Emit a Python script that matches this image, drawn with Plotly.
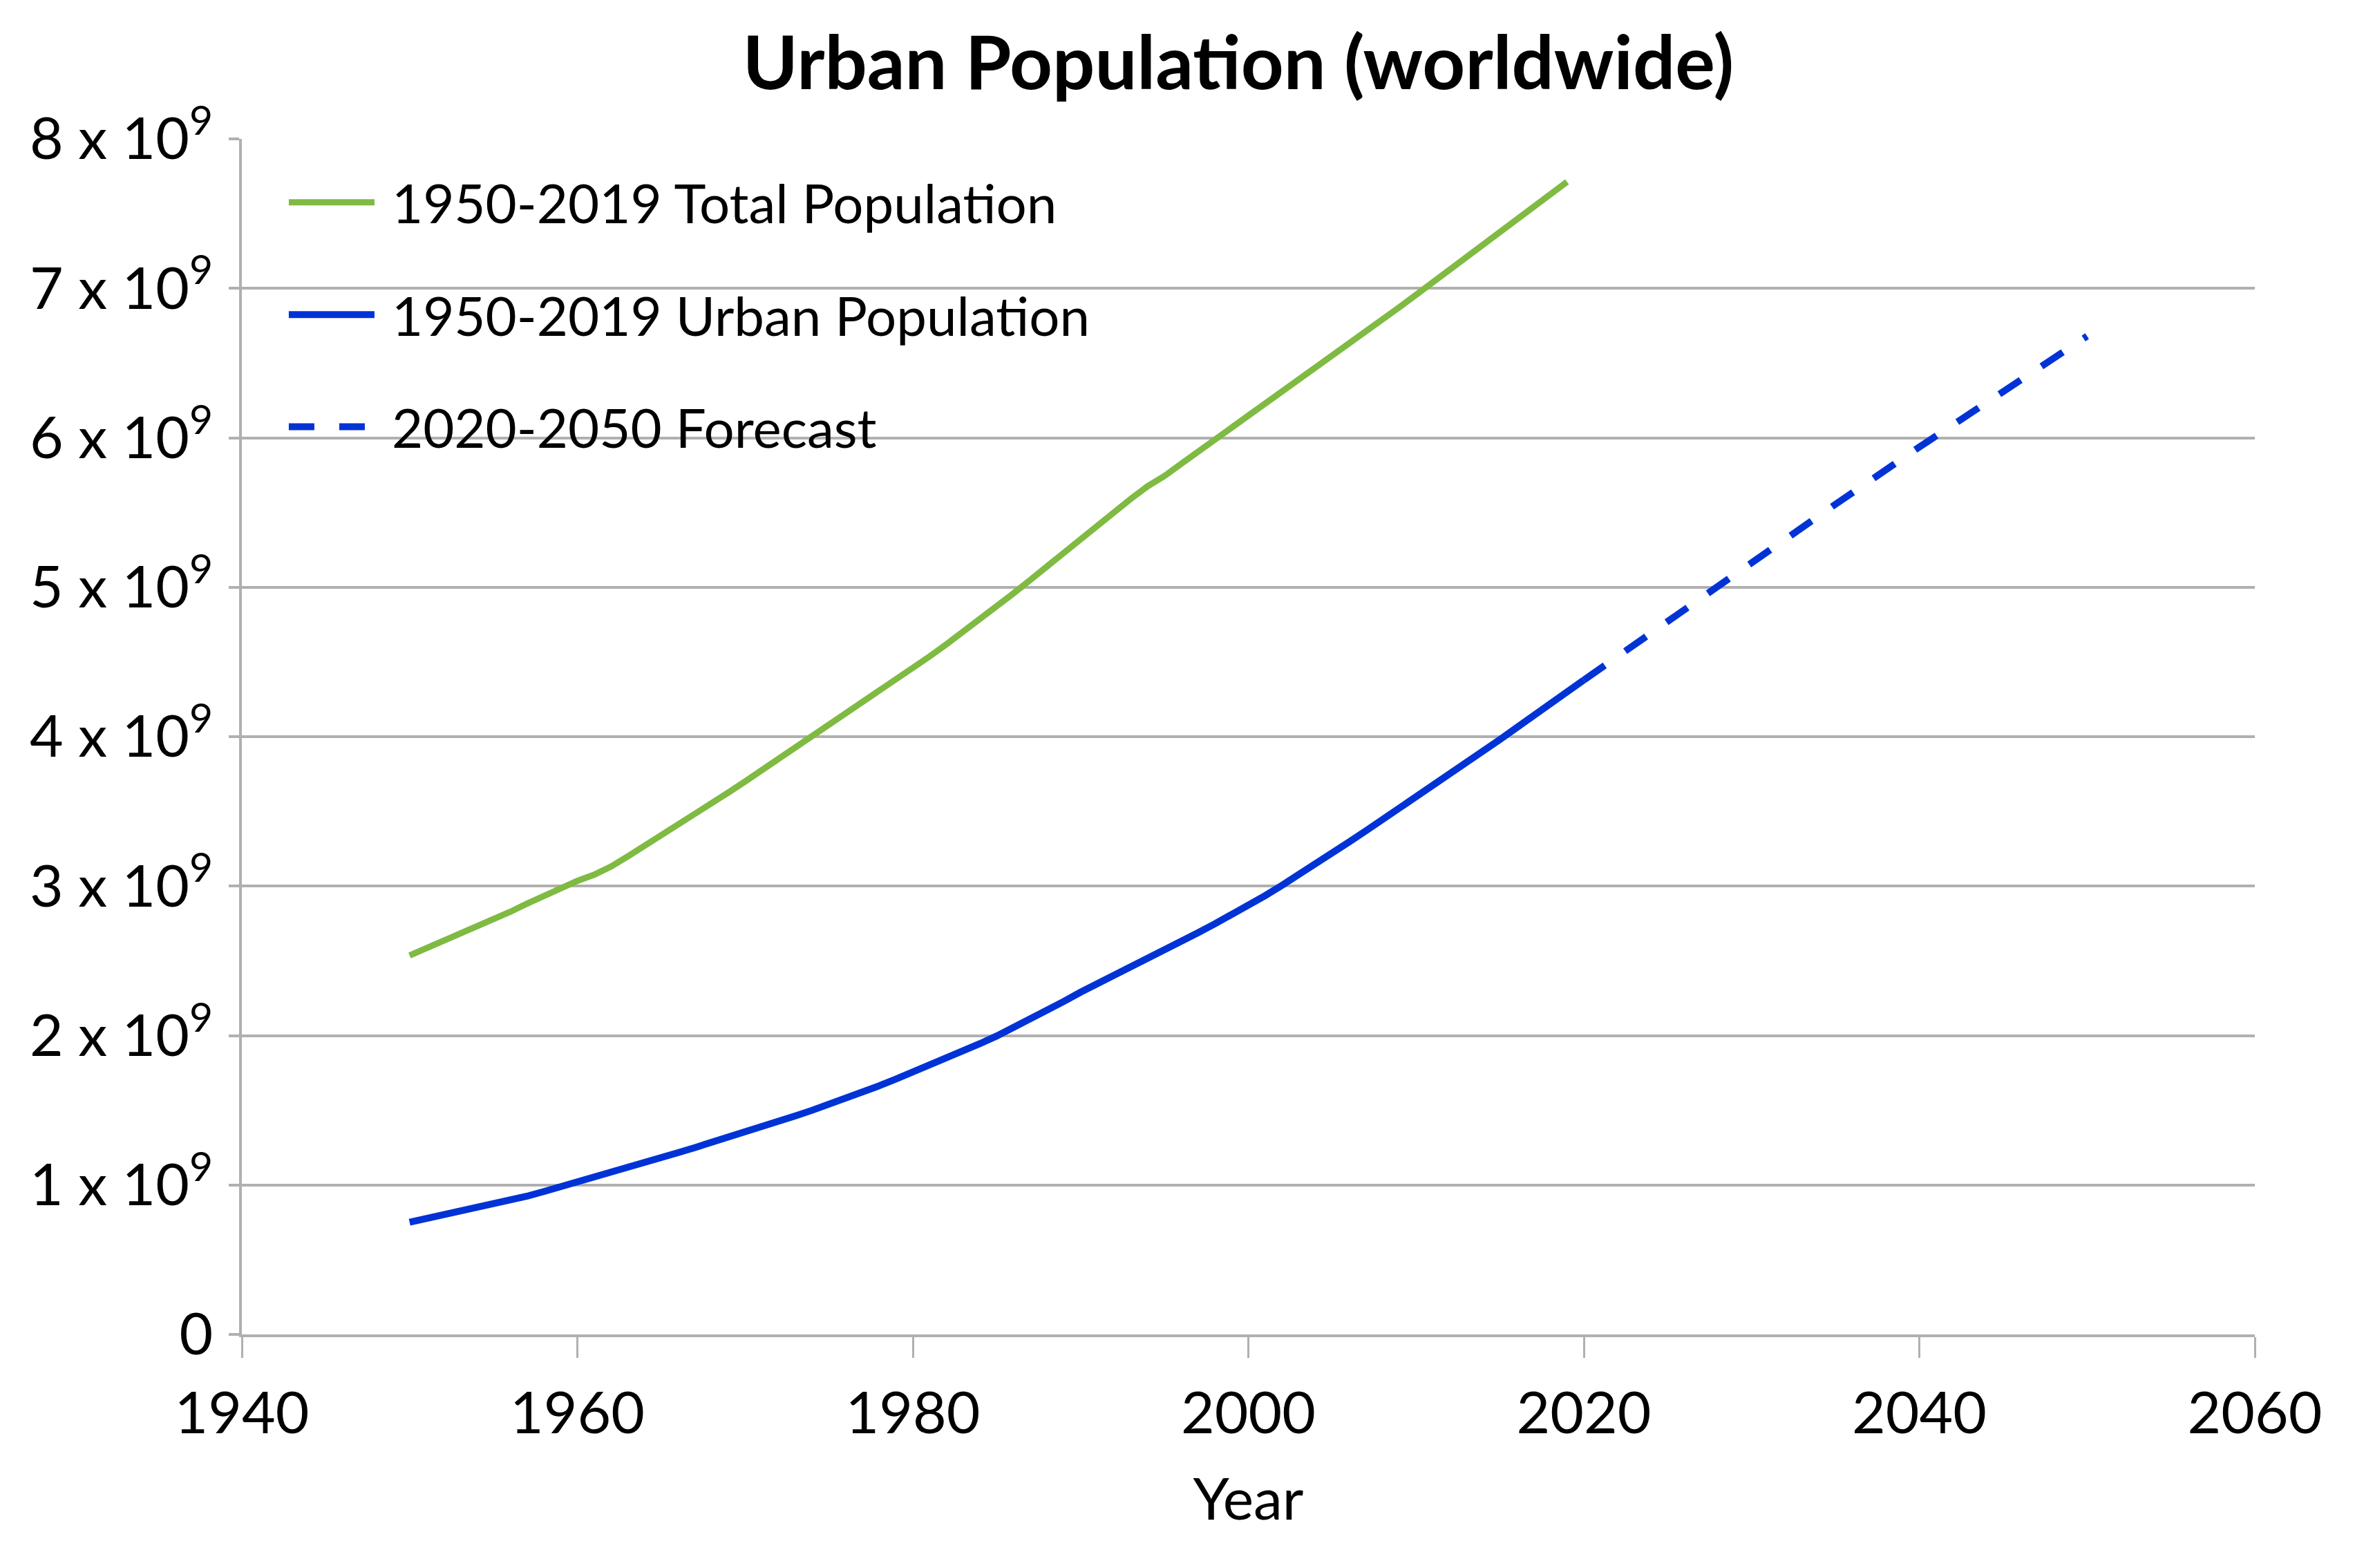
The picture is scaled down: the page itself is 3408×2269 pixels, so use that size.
import plotly.graph_objects as go

# world population, billions
total_years = list(range(1950, 2020))
total_pop = [
    2.536, 2.584, 2.631, 2.679, 2.728, 2.773, 2.828, 2.883, 2.937, 2.985,
    3.035, 3.076, 3.130, 3.198, 3.268, 3.339, 3.409, 3.479, 3.553, 3.626,
    3.700, 3.775, 3.851, 3.927, 4.003, 4.079, 4.154, 4.229, 4.304, 4.380,
    4.458, 4.537, 4.618, 4.701, 4.786, 4.871, 4.959, 5.049, 5.141, 5.234,
    5.327, 5.418, 5.506, 5.592, 5.676, 5.744, 5.826, 5.906, 5.986, 6.065,
    6.143, 6.222, 6.301, 6.381, 6.461, 6.542, 6.624, 6.706, 6.789, 6.873,
    6.957, 7.041, 7.126, 7.211, 7.296, 7.380, 7.464, 7.548, 7.631, 7.713,
]

urban_years = list(range(1950, 2021))
urban_pop = [
    0.751, 0.775, 0.799, 0.822, 0.845, 0.868, 0.895, 0.925, 0.956, 0.987,
    1.019, 1.050, 1.083, 1.116, 1.149, 1.183, 1.216, 1.250, 1.284, 1.319,
    1.354, 1.389, 1.425, 1.462, 1.500, 1.538, 1.578, 1.620, 1.664, 1.709,
    1.754, 1.801, 1.848, 1.896, 1.946, 1.997, 2.052, 2.109, 2.167, 2.228,
    2.290, 2.345, 2.400, 2.456, 2.512, 2.569, 2.628, 2.688, 2.747, 2.807,
    2.868, 2.936, 3.005, 3.075, 3.147, 3.221, 3.295, 3.369, 3.444, 3.519,
    3.595, 3.673, 3.751, 3.828, 3.905, 3.981, 4.061, 4.141, 4.220, 4.299,
    4.379,
]

forecast_years = [2020, 2025, 2030, 2035, 2040, 2045, 2050]
forecast_pop = [4.379, 4.774, 5.167, 5.555, 5.938, 6.312, 6.680]

y_ticks = [0, 1, 2, 3, 4, 5, 6, 7, 8]
y_ticktext = ["0"] + [f"{v} x 10<sup>9</sup>" for v in y_ticks[1:]]

GREEN = "#7fba42"
BLUE = "#0033d6"
GRID = "#b0b0b0"
FONT = "Lato"
GAP = "\u00a0"  # space between legend line and label

fig = go.Figure()
fig.add_trace(go.Scatter(
    x=total_years, y=[v * 1e9 for v in total_pop], mode="lines",
    name=GAP + "1950-2019 Total Population", legendgroup="a",
    line=dict(color=GREEN, width=9),
))
fig.add_trace(go.Scatter(
    x=urban_years, y=[v * 1e9 for v in urban_pop], mode="lines",
    name=GAP + "1950-2019 Urban Population", legendgroup="b",
    line=dict(color=BLUE, width=10),
))
fig.add_trace(go.Scatter(
    x=forecast_years, y=[v * 1e9 for v in forecast_pop], mode="lines",
    name=GAP + "2020-2050 Forecast", legendgroup="c",
    line=dict(color=BLUE, width=10, dash="37px,36px"),
))

# page body adds an 8px margin, so the figure is 8px smaller
fig.update_layout(
    width=3400,
    height=2261,
    margin=dict(l=342, r=145, t=193, b=338),
    plot_bgcolor="white",
    paper_bgcolor="white",
    font=dict(family=FONT, size=84, color="black"),
    title=dict(
        text="<b>Urban Population (worldwide)</b>",
        font=dict(family=FONT, size=108, color="black"),
        x=0.495, xref="paper", xanchor="center",
        y=0.963, yref="container", yanchor="middle",
    ),
    legend=dict(
        x=0.0216, y=0.98, xanchor="left", yanchor="top",
        bgcolor="rgba(255,255,255,0)",
        font=dict(family=FONT, size=78, color="black"),
        itemwidth=124,
        tracegroupgap=58,
    ),
)

fig.update_xaxes(
    range=[1940, 2060], dtick=20, tick0=1940,
    showgrid=False, showline=True, linecolor=GRID, linewidth=4,
    ticks="outside", ticklen=30, tickwidth=3, tickcolor=GRID,
    tickfont=dict(size=84), ticklabelstandoff=8,
    title=dict(text="Year", font=dict(size=84), standoff=50),
    zeroline=False,
)
fig.update_yaxes(
    range=[0, 8e9], tickvals=[v * 1e9 for v in y_ticks], ticktext=y_ticktext,
    showgrid=True, gridcolor=GRID, gridwidth=4,
    showline=True, linecolor=GRID, linewidth=4,
    ticks="outside", ticklen=15, tickwidth=4, tickcolor=GRID,
    tickfont=dict(size=84), ticklabelstandoff=6,
    zeroline=False,
)

fig.write_html("out.html")
